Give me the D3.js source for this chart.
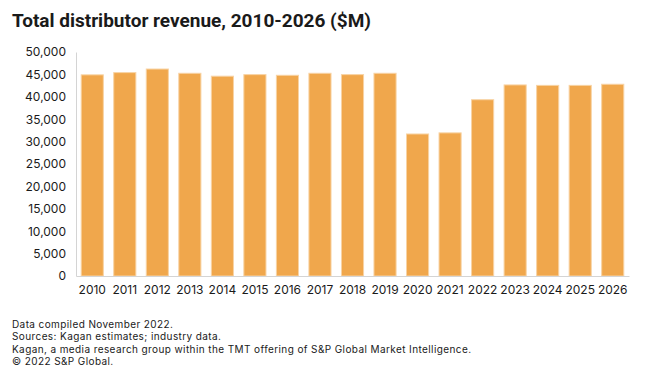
<!DOCTYPE html>
<html>
<head>
<meta charset="utf-8">
<script src="https://cdn.jsdelivr.net/npm/d3@7"></script>
<style>
  body { margin: 0; background: #fff; }
  text { font-family: Inter, "Noto Sans", sans-serif; fill: #1a1a1a; }
</style>
</head>
<body>
<svg id="chart" width="660" height="380"></svg>
<script>
var years = ["2010","2011","2012","2013","2014","2015","2016","2017","2018",
  "2019","2020","2021","2022","2023","2024","2025","2026"];
var revenue = [44900, 45400, 46200, 45250, 44600, 44950, 44800, 45250, 44950,
  45250, 31700, 31950, 39350, 42650, 42550, 42550, 42800];
var yTicks = [0, 5000, 10000, 15000, 20000, 25000, 30000, 35000, 40000, 45000, 50000];
var notes = [
  "Data compiled November 2022.",
  "Sources: Kagan estimates; industry data.",
  "Kagan, a media research group within the TMT offering of S&P Global Market Intelligence.",
  "\u00a9 2022 S&P Global."
];

var svg = d3.select("#chart");
var margin = {left: 76, right: 31, top: 52, bottom: 104};
var w = 660 - margin.left - margin.right;
var h = 380 - margin.top - margin.bottom;

svg.append("text")
  .attr("x", 12).attr("y", 27)
  .style("font-family", "Roboto, sans-serif")
  .style("font-size", "19px").style("font-weight", "700")
  .text("Total distributor revenue, 2010-2026 ($M)");

var g = svg.append("g").attr("transform", "translate(" + margin.left + "," + margin.top + ")");

var x = d3.scaleBand().domain(years).range([0, w]).paddingInner(0.32).paddingOuter(0.16);
var y = d3.scaleLinear().domain([0, 50000]).range([h, 0]);

g.selectAll("rect.bar").data(revenue).enter().append("rect")
  .attr("class", "bar")
  .attr("x", function(d, i) { return x(years[i]); })
  .attr("width", x.bandwidth())
  .attr("y", function(d) { return y(d); })
  .attr("height", function(d) { return h - y(d); })
  .style("fill", "#f0a74c")
  .style("stroke", "#f8d3a4")
  .style("stroke-width", 1);

var yAxis = g.append("g")
  .call(d3.axisLeft(y).tickValues(yTicks).tickSize(0).tickPadding(10).tickFormat(d3.format(",")));
yAxis.select(".domain").style("stroke", "#d4d4d4");
yAxis.selectAll("text").style("font-size", "12px").style("font-family", "Inter, sans-serif").style("fill", "#1a1a1a");

var xAxis = g.append("g").attr("transform", "translate(0," + h + ")")
  .call(d3.axisBottom(x).tickSize(0).tickPadding(9));
xAxis.select(".domain").style("stroke", "#d4d4d4");
xAxis.selectAll("text").style("font-size", "12px").style("font-family", "Inter, sans-serif").style("fill", "#1a1a1a");

// footer notes
svg.selectAll("text.note").data(notes).enter().append("text")
  .attr("class", "note")
  .attr("x", 12)
  .attr("y", function(d, i) { return 328 + i * 12.3; })
  .style("font-size", "10px")
  .style("letter-spacing", "0.4px")
  .text(function(d) { return d; });
</script>
</body>
</html>
